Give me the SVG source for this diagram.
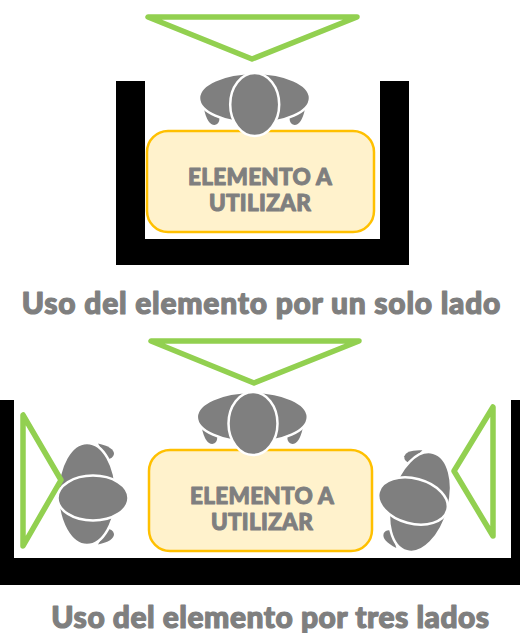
<svg xmlns="http://www.w3.org/2000/svg" width="520" height="633" viewBox="0 0 520 633">
<style>
.wall{fill:#000}
.tri{fill:none;stroke:#92D050;stroke-width:5.500;stroke-linejoin:round}
.box{fill:#FFF2CC;stroke:#FFC000;stroke-width:2.5}
.p{fill:#7F7F7F}
.o{fill:#7F7F7F;stroke:#fff;stroke-width:2.5}
text{font-family:Lato,"Liberation Sans",sans-serif;font-weight:900;fill:#7F7F7F;text-anchor:middle;stroke:#7F7F7F;stroke-linejoin:round}
.l{font-size:22.5px;stroke-width:1;letter-spacing:.3px}
.t{font-size:30px;stroke-width:1.200;letter-spacing:.75px}
.t2{letter-spacing:.5px}
</style>
<defs>
<path id="hand" d="M-50.500 11Q-47 27-40 27Q-35 26-35 20Z"/>
<g id="hands" class="p"><use href="#hand"/><use href="#hand" transform="scale(-1 1)"/></g>
</defs>
<g id="walls-one">
<path class="wall" d="M116 81H145V239H380V81H409V265H116Z"/>
</g>
<g id="viewer-one"><polygon class="tri" points="148,17 357,17 252,59"/></g>
<g id="person-one" transform="translate(254.500 98)">
<use href="#hands"/>
<ellipse class="o" rx="55.500" ry="25"/>
</g>
<g id="element-one">
<rect class="box" x="147" y="131" width="227" height="101" rx="21"/>
<text class="l" x="260" y="185">ELEMENTO A</text>
<text class="l" x="260" y="211">UTILIZAR</text>
</g>
<ellipse id="head-one" class="o" cx="254.700" cy="104.500" rx="24.500" ry="31.500"/>
<text id="title-one" class="t" x="261.500" y="314">Uso del elemento por un solo lado</text>

<g id="walls-three">
<path class="wall" d="M0 400H14V558H511V400H520V585H0Z"/>
</g>
<g id="viewer-top"><polygon class="tri" points="151,341 359,341 254,383"/></g>
<g id="viewer-right"><polygon class="tri" points="493,407 493,536 454,471"/></g>
<g id="person-top" transform="translate(252.300 417)">
<use href="#hands"/>
<ellipse class="o" rx="55.500" ry="25"/>
</g>
<g id="element-three">
<rect class="box" x="149" y="450" width="223" height="101" rx="21"/>
<text class="l" x="262" y="504">ELEMENTO A</text>
<text class="l" x="262" y="530">UTILIZAR</text>
</g>
<ellipse id="head-top" class="o" cx="253" cy="423.500" rx="24.500" ry="31.500"/>
<g id="person-left">
<g transform="translate(87 494) rotate(-90)"><use href="#hands"/><ellipse class="o" rx="51" ry="29"/></g>
<ellipse class="o" cx="93" cy="498" rx="35.500" ry="22.500"/>
</g>
<g id="viewer-left"><polygon class="tri" points="23,415 23,546 61,480"/></g>
<g id="person-right">
<g transform="translate(420 502) rotate(105)"><use href="#hands"/><ellipse class="o" rx="51" ry="29"/></g>
<ellipse class="o" cx="413" cy="501" rx="35.500" ry="22.500" transform="rotate(15 413 501)"/>
</g>
<text id="title-three" class="t t2" x="270.500" y="628">Uso del elemento por tres lados</text>
</svg>
